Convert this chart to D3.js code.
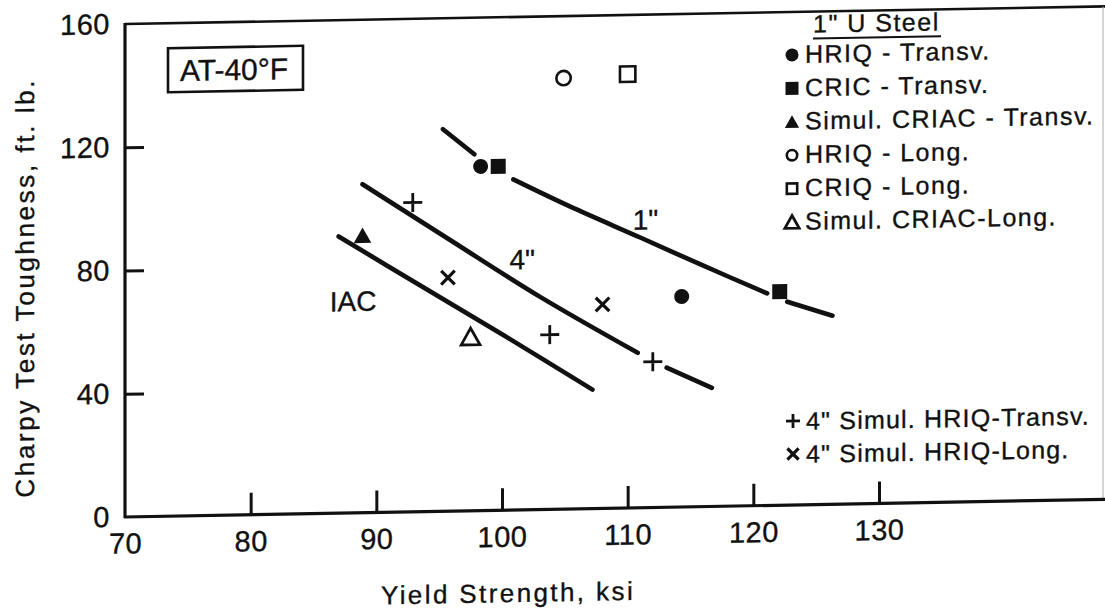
<!DOCTYPE html>
<html lang="en">
<head>
<meta charset="UTF-8">
<script src="https://d3js.org/d3.v7.min.js"></script>
<style>
  body { margin: 0; background: #fff; }
  text { font-family: 'Liberation Sans', Arial, Helvetica, sans-serif; fill: #111; stroke: #111; stroke-width: 0.35px; }
</style>
</head>
<body>
<svg id="chart" width="1105" height="615"></svg>
<script>
// axis ticks
const xTicks = [70, 80, 90, 100, 110, 120, 130];
const yTicks = [0, 40, 80, 120, 160];

// fitted curves (null = gap left around a marker)
const curve1in = [[95.3, 124.0], [97.8, 115.7], null, [100.9, 107.3], [105.4, 98.2], [111.0, 87.7],
                  [115.8, 78.6], [121.1, 68.8], null, [122.7, 66.0], [126.3, 61.2]];
const curve4in = [[88.9, 106.6], [95.9, 87.9], [103.0, 69.1], [110.8, 50.3], null,
                  [113.1, 45.3], [116.7, 38.5]];
const curveIAC = [[87.0, 89.8], [93.5, 73.4], [100.2, 56.6], [107.2, 38.6]];

// measured points  [yield ksi, toughness ft.lb]
const hriqTransv = [[98.3, 111.7], [114.3, 68.3]];
const cricTransv = [[99.7, 111.6], [122.1, 69.3]];
const criacTransv = [[88.9, 90.0]];
const hriqLong = [[104.9, 139.9]];
const criqLong = [[110.0, 140.8]];
const criacLong = [[97.5, 56.5]];
const hriq4Transv = [[92.9, 100.4], [103.8, 56.7], [112.0, 47.3]];
const hriq4Long = [[95.7, 75.8], [108.0, 66.2]];

const legendTitle = '1" U Steel';
const legendLabels = ["HRIQ - Transv.", "CRIC - Transv.", "Simul. CRIAC - Transv.",
                      "HRIQ - Long.", "CRIQ - Long.", "Simul. CRIAC-Long."];
const legendMarkers = ["dot", "square", "tri", "ring", "box", "triOpen"];
const legend2Labels = ['4" Simul. HRIQ-Transv.', '4" Simul. HRIQ-Long.'];
const legend2Markers = ["plus", "cross"];

const curveLabels = [{t: '1"', x: 110.4, y: 90.3}, {t: '4"', x: 100.6, y: 78.1}, {t: "IAC", x: 86.3, y: 65.5}];

const svg = d3.select("#chart");
// the scanned figure is slightly sheared, so the whole drawing gets a small skew
const k = 0.018;
const root = svg.append("g")
  .attr("transform", `translate(0,${(125 * k).toFixed(2)}) skewY(${(-Math.atan(k) * 180 / Math.PI).toFixed(3)})`);

const x = d3.scaleLinear().domain([70, 130]).range([125, 879]);
const y = d3.scaleLinear().domain([0, 160]).range([517, 24]);

// frame
root.append("line").attr("x1", 125).attr("x2", 1105).attr("y1", 24).attr("y2", 24)
  .attr("stroke", "#111").attr("stroke-width", 2.6);
root.append("line").attr("x1", 1103).attr("x2", 1103).attr("y1", 24).attr("y2", 517)
  .attr("stroke", "#aaa").attr("stroke-width", 1);
root.append("line").attr("x1", 125).attr("x2", 125).attr("y1", 23).attr("y2", 518)
  .attr("stroke", "#111").attr("stroke-width", 3.2);
root.append("line").attr("x1", 124).attr("x2", 1105).attr("y1", 517).attr("y2", 517)
  .attr("stroke", "#111").attr("stroke-width", 3.2);

// axes
const xAxis = root.append("g").attr("transform", "translate(0,517)")
  .call(d3.axisBottom(x).tickValues(xTicks).tickFormat(d3.format("d"))
    .tickSizeInner(-22).tickSizeOuter(0).tickPadding(16));
const yAxis = root.append("g").attr("transform", "translate(125,0)")
  .call(d3.axisLeft(y).tickValues(yTicks).tickFormat(d3.format("d"))
    .tickSizeInner(-19).tickSizeOuter(0).tickPadding(15));

[xAxis, yAxis].forEach(a => {
  a.select(".domain").remove();
  a.selectAll(".tick line").attr("stroke", "#111").attr("stroke-width", 3);
  a.selectAll(".tick text").style("font-size", "29px").style("letter-spacing", "0.5px")
    .attr("fill", "#111").style("font-family", "'Liberation Sans', Arial, sans-serif");
});
xAxis.selectAll(".tick").filter(d => d === 70).select("line").remove();
yAxis.selectAll(".tick").filter(d => d === 0 || d === 160).select("line").remove();

// axis titles
root.append("text").attr("x", 508).attr("y", 609).attr("text-anchor", "middle")
  .style("font-size", "26px").style("letter-spacing", "2.4px").text("Yield Strength, ksi");
root.append("text").attr("transform", "translate(34,286) rotate(-90)").attr("text-anchor", "middle")
  .style("font-size", "26px").style("letter-spacing", "2.6px").text("Charpy Test Toughness, ft. lb.");

// condition box
root.append("rect").attr("x", 168).attr("y", 49).attr("width", 135).attr("height", 44)
  .attr("fill", "none").attr("stroke", "#111").attr("stroke-width", 2.6);
root.append("text").attr("x", 180).attr("y", 82).style("font-size", "30px").text("AT-40°F");

// curves
const line = d3.line().defined(d => d !== null)
  .x(d => x(d[0])).y(d => y(d[1])).curve(d3.curveCatmullRom);
[curve1in, curve4in, curveIAC].forEach(c => {
  root.append("path").attr("d", line(c)).attr("fill", "none")
    .attr("stroke", "#111").attr("stroke-width", 4.6).attr("stroke-linecap", "round");
});

curveLabels.forEach(l => {
  root.append("text").attr("x", x(l.x)).attr("y", y(l.y)).style("font-size", "28px").text(l.t);
});

// marker shapes, s = overall size in px
function marker(g, type, cx, cy, s) {
  const h = s / 2;
  if (type === "dot") {
    g.append("circle").attr("cx", cx).attr("cy", cy).attr("r", h).attr("fill", "#111");
  } else if (type === "square") {
    g.append("rect").attr("x", cx - h).attr("y", cy - h).attr("width", s).attr("height", s).attr("fill", "#111");
  } else if (type === "tri" || type === "triOpen") {
    const p = g.append("path")
      .attr("d", `M${cx},${cy - h}L${cx + h * 1.1},${cy + h * 0.95}L${cx - h * 1.1},${cy + h * 0.95}Z`);
    if (type === "tri") p.attr("fill", "#111");
    else p.attr("fill", "#fff").attr("stroke", "#111").attr("stroke-width", 2.8).attr("stroke-linejoin", "miter");
  } else if (type === "ring") {
    g.append("circle").attr("cx", cx).attr("cy", cy).attr("r", h - 1.3)
      .attr("fill", "#fff").attr("stroke", "#111").attr("stroke-width", 2.6);
  } else if (type === "box") {
    g.append("rect").attr("x", cx - h + 1.3).attr("y", cy - h + 1.3).attr("width", s - 2.6).attr("height", s - 2.6)
      .attr("fill", "#fff").attr("stroke", "#111").attr("stroke-width", 2.6);
  } else if (type === "plus") {
    g.append("path").attr("d", `M${cx - h},${cy}H${cx + h}M${cx},${cy - h}V${cy + h}`)
      .attr("stroke", "#111").attr("stroke-width", 2.8);
  } else if (type === "cross") {
    const q = h * 0.8;
    g.append("path").attr("d", `M${cx - q},${cy - q}L${cx + q},${cy + q}M${cx + q},${cy - q}L${cx - q},${cy + q}`)
      .attr("stroke", "#111").attr("stroke-width", 3.2);
  }
}

const series = [
  {pts: hriqTransv, m: "dot", s: 15},
  {pts: cricTransv, m: "square", s: 15},
  {pts: criacTransv, m: "tri", s: 16},
  {pts: hriqLong, m: "ring", s: 17},
  {pts: criqLong, m: "box", s: 18},
  {pts: criacLong, m: "triOpen", s: 17},
  {pts: hriq4Transv, m: "plus", s: 19},
  {pts: hriq4Long, m: "cross", s: 17}
];
const marks = root.append("g");
series.forEach(sr => sr.pts.forEach(p => marker(marks, sr.m, x(p[0]), y(p[1]), sr.s)));

// legend, upper block
const leg = root.append("g");
leg.append("text").attr("x", 813).attr("y", 45).style("font-size", "25px")
  .style("letter-spacing", "1.5px").text(legendTitle);
leg.append("line").attr("x1", 813).attr("x2", 941).attr("y1", 51).attr("y2", 51)
  .attr("stroke", "#111").attr("stroke-width", 2);
legendLabels.forEach((t, i) => {
  const by = 75 + i * 33.4;
  marker(leg, legendMarkers[i], 792, by - 8, 13);
  leg.append("text").attr("x", 805).attr("y", by).style("font-size", "25px")
    .style("letter-spacing", "1.5px").text(t);
});

// legend, lower block
legend2Labels.forEach((t, i) => {
  const by = 442 + i * 33;
  marker(leg, legend2Markers[i], 793, by - 9, 14);
  leg.append("text").attr("x", 806).attr("y", by).style("font-size", "25px")
    .style("letter-spacing", "1.2px").text(t);
});
</script>
</body>
</html>
